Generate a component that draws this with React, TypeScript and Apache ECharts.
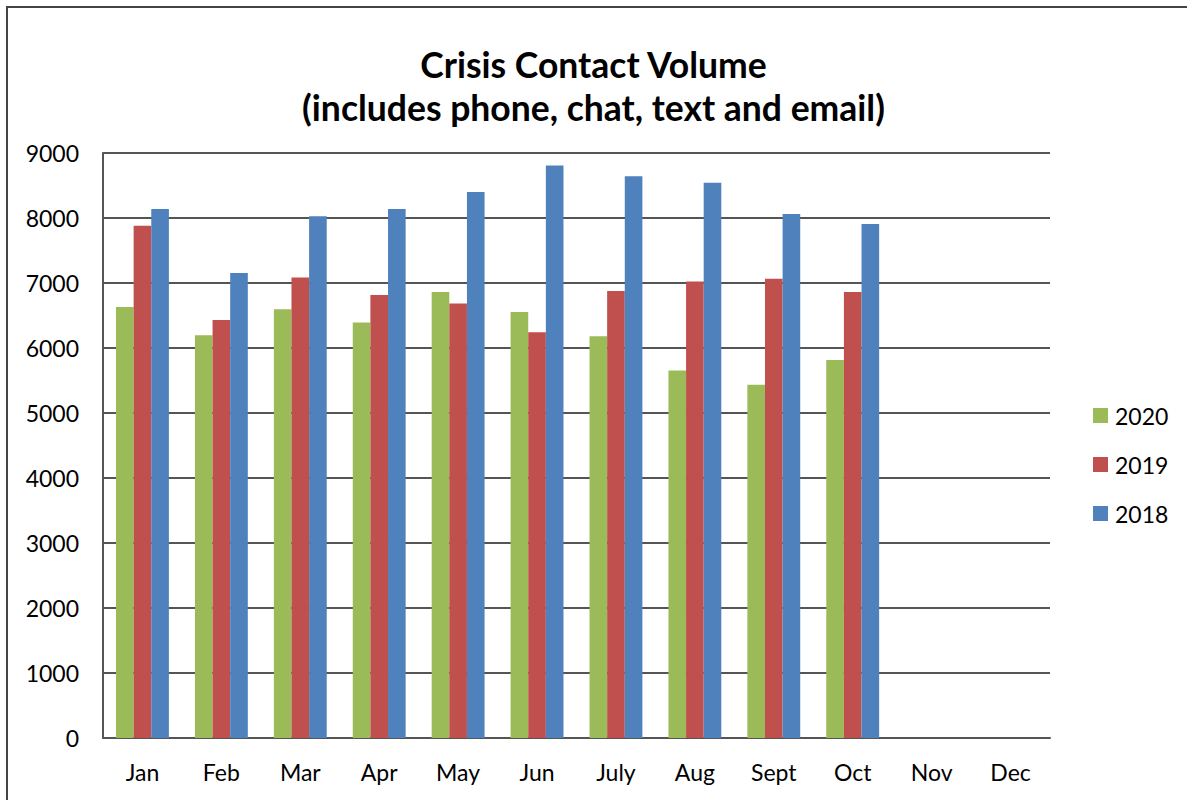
import React, { useEffect, useRef } from "react";
import * as echarts from "echarts";

const months = ["Jan", "Feb", "Mar", "Apr", "May", "Jun", "July", "Aug", "Sept", "Oct", "Nov", "Dec"];
const v2020 = [6630, 6195, 6598, 6394, 6862, 6552, 6179, 5653, 5433, 5816, null, null];
const v2019 = [7882, 6429, 7086, 6816, 6683, 6241, 6877, 7025, 7066, 6862, null, null];
const v2018 = [8138, 7153, 8026, 8138, 8399, 8808, 8644, 8541, 8061, 7908, null, null];
const seriesNames = ["2020", "2019", "2018"];
const colors = ["#9BBB59", "#C0504D", "#4F81BD"];
const titleText = "Crisis Contact Volume\n(includes phone, chat, text and email)";

const FONT = "Lato, 'Open Sans', sans-serif";

export default function App() {
  const ref = useRef<HTMLDivElement>(null);
  useEffect(() => {
    if (!ref.current) return;
    const chart = echarts.init(ref.current, null, { renderer: "svg" });
    const data = [v2020, v2019, v2018];
    chart.setOption({
      animation: false,
      backgroundColor: "#ffffff",
      textStyle: { fontFamily: FONT },
      title: {
        text: titleText,
        left: "center",
        top: 38,
        textStyle: { fontFamily: FONT, fontWeight: "bold", fontSize: 35.5, color: "#000", lineHeight: 43 },
      },
      graphic: [
        {
          type: "rect",
          shape: { x: 7, y: 7, width: 1250, height: 850 },
          style: { fill: "none", stroke: "#444", lineWidth: 2 },
          silent: true,
        },
      ],
      legend: {
        orient: "vertical",
        left: 1088,
        top: 399,
        itemWidth: 15,
        itemHeight: 15,
        itemGap: 26,
        icon: "rect",
        data: seriesNames,
        textStyle: { fontFamily: FONT, fontSize: 23, color: "#000", padding: [0, 0, 0, 2] },
      },
      grid: { left: 103, right: 137, top: 153, bottom: 62 },
      xAxis: {
        type: "category",
        data: months,
        axisLine: { lineStyle: { color: "#555", width: 2 } },
        axisTick: { show: false },
        axisLabel: { fontFamily: FONT, fontSize: 23, color: "#000", margin: 22 },
      },
      yAxis: {
        type: "value",
        min: 0,
        max: 9000,
        interval: 1000,
        axisLine: { show: true, lineStyle: { color: "#555", width: 2 } },
        axisTick: { show: false },
        splitLine: { lineStyle: { color: "#555", width: 2 } },
        axisLabel: { fontFamily: FONT, fontSize: 23, color: "#000", margin: 24, formatter: (v: number) => String(v) },
      },
      series: seriesNames.map((n, i) => ({
        name: n,
        type: "bar",
        data: data[i],
        barGap: "0%",
        barCategoryGap: "33%",
        itemStyle: { color: colors[i] },
      })),
    });
    return () => chart.dispose();
  }, []);
  return <div ref={ref} style={{ width: 1187, height: 800, position: "absolute", left: 0, top: 0 }} />;
}
